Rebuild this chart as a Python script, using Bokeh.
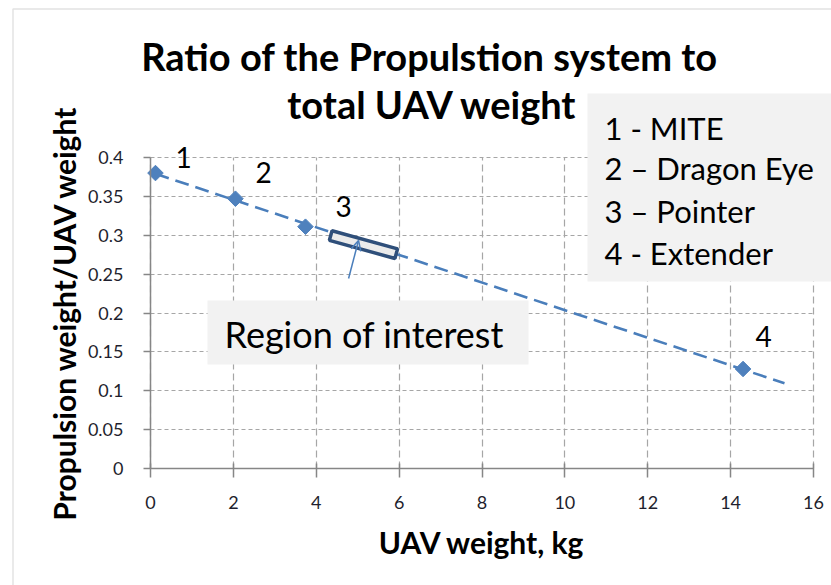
import numpy as np
from bokeh.plotting import figure
from bokeh.models import (FixedTicker, Label, BoxAnnotation, Arrow, OpenHead,
                          ColumnDataSource, LinearAxis, Grid)
from bokeh.embed import file_html
from bokeh.resources import INLINE

# ---- data ----
uav_weight = [0.12, 2.05, 3.74, 14.3]
prop_ratio = [0.38, 0.347, 0.311, 0.128]
point_ids = ["1", "2", "3", "4"]
legend_lines = ["1 - MITE", "2 \u2013 Dragon Eye", "3 \u2013 Pointer", "4 - Extender"]
x_ticks = [0, 2, 4, 6, 8, 10, 12, 14, 16]
y_ticks = [0, 0.05, 0.1, 0.15, 0.2, 0.25, 0.3, 0.35, 0.4]
y_tick_labels = ["0", "0.05", "0.1", "0.15", "0.2", "0.25", "0.3", "0.35", "0.4"]
title_lines = ["Ratio of the Propulstion system to", "total UAV weight"]

FONT = "Lato"
BLUE = "#4F81BD"
W, H = 831, 585
# plot area on the canvas (pixels): x 0..16 -> 150..813, y 0..0.4 -> 468..157
PX0, PX1, PY0, PY1 = 150.0, 813.0, 468.0, 157.0
XMIN, XMAX, YMIN, YMAX = 0.0, 16.0, 0.0, 0.4
sx_ = (PX1 - PX0) / (XMAX - XMIN)
sy_ = (PY0 - PY1) / (YMAX - YMIN)


def px2x(px):
    return XMIN + (px - PX0) / sx_


def px2y(py):
    return YMIN + (PY0 - py) / sy_


p = figure(width=W, height=H, x_range=(px2x(0), px2x(W)), y_range=(px2y(H), px2y(0)),
           output_backend="svg", toolbar_location=None, title=None,
           x_axis_location=None, y_axis_location=None,
           min_border=0, min_border_left=0, min_border_right=0,
           min_border_top=0, min_border_bottom=0)
p.outline_line_color = None
p.background_fill_color = "white"
p.border_fill_color = "white"
p.xgrid.visible = False
p.ygrid.visible = False

# outer chart border
p.add_layout(BoxAnnotation(left=px2x(12.5), right=px2x(900), top=px2y(8.5),
                           bottom=px2y(700), fill_alpha=0, line_color="#a0a0a0",
                           line_width=1.5, level="underlay"))

# axes (drawn at the data origin)
xaxis = LinearAxis(fixed_location=0, bounds=(XMIN, XMAX),
                   ticker=FixedTicker(ticks=x_ticks))
yaxis = LinearAxis(fixed_location=0, bounds=(YMIN, YMAX),
                   ticker=FixedTicker(ticks=y_ticks))
yaxis.major_label_overrides = {t: l for t, l in zip(y_ticks, y_tick_labels)}
xaxis.major_label_overrides = {t: str(t) for t in x_ticks}
for ax in (xaxis, yaxis):
    ax.axis_line_color = "#868686"
    ax.axis_line_width = 1.5
    ax.major_tick_line_color = "#868686"
    ax.major_tick_line_width = 1.5
    ax.minor_tick_line_color = None
    ax.major_label_text_font = FONT
    ax.major_label_text_font_size = "18px"
    ax.major_label_text_color = "#1f1f2e"
    ax.axis_label_text_font = FONT
    ax.axis_label_text_font_style = "bold"
    ax.axis_label_text_font_size = "30px"
    ax.axis_label_text_color = "black"
xaxis.major_tick_out = 9
xaxis.major_tick_in = 5
xaxis.major_label_standoff = 18
xaxis.axis_label = "UAV weight, kg"
xaxis.axis_label_standoff = 12
yaxis.major_tick_out = 7
yaxis.major_tick_in = 0
yaxis.major_label_standoff = 20
yaxis.axis_label = "Propulsion weight/UAV weight"
yaxis.axis_label_standoff = 3
p.add_layout(xaxis, "below")
p.add_layout(yaxis, "left")

# grid lines limited to the plot area
has_cross = "cross_bounds" in Grid.properties()
if has_cross:
    gx = Grid(dimension=0, ticker=FixedTicker(ticks=x_ticks), bounds=(XMIN, XMAX),
              cross_bounds=(YMIN, YMAX))
    gy = Grid(dimension=1, ticker=FixedTicker(ticks=y_ticks), bounds=(YMIN, YMAX),
              cross_bounds=(XMIN, XMAX))
    gx.grid_line_dash = "7 4"
    gy.grid_line_dash = "4 3"
    for g in (gx, gy):
        g.grid_line_color = "#a6a6a6"
        g.grid_line_width = 1.2
        p.add_layout(g)
else:
    p.segment(x0=x_ticks, x1=x_ticks, y0=[YMIN] * len(x_ticks), y1=[YMAX] * len(x_ticks),
              line_color="#a6a6a6", line_width=1.2, line_dash="7 4", level="underlay")
    p.segment(x0=[XMIN] * len(y_ticks), x1=[XMAX] * len(y_ticks), y0=y_ticks, y1=y_ticks,
              line_color="#a6a6a6", line_width=1.2, line_dash="4 3", level="underlay")

# trendline (linear fit of the data, forward forecast 1 unit)
coef = np.polyfit(uav_weight, prop_ratio, 1)
tx = np.array([min(uav_weight), max(uav_weight) + 1.0])
p.line(tx, np.polyval(coef, tx), line_color="#4A7EBB", line_width=2.6,
       line_dash="14 7")

# points (diamond = square rotated 45 degrees)
src = ColumnDataSource(dict(x=uav_weight, y=prop_ratio))
p.scatter("x", "y", source=src, marker="square", size=11, angle=np.pi / 4,
          fill_color=BLUE, line_color=BLUE)


def page_label(px, py, text, size, align="left", style="normal"):
    p.add_layout(Label(x=px2x(px), y=px2y(py), text=text,
                       text_font=FONT, text_font_size=size, text_font_style=style,
                       text_align=align, text_baseline="middle",
                       text_color="black"))


# point number labels
for t, (lx, ly) in zip(point_ids, [(183, 157), (263, 172), (343, 206), (763, 336)]):
    page_label(lx, ly, t, "28px", align="center")

# region of interest marker
p.rect(x=[5.14], y=[0.288], width=68, height=10, width_units="screen",
       height_units="screen", angle=-0.27, fill_color="#ebebeb",
       line_color="#2F4F7A", line_width=3.5)
p.add_layout(Arrow(end=OpenHead(size=10, line_color="#4A7EBB", line_width=1.5),
                   x_start=4.78, y_start=0.2444, x_end=5.02, y_end=0.2933,
                   line_color="#4A7EBB", line_width=1.5))

# region of interest text box
p.add_layout(BoxAnnotation(left=px2x(207), right=px2x(528), top=px2y(300),
                           bottom=px2y(364), fill_color="#f2f2f2", fill_alpha=1,
                           line_color=None))
page_label(224, 333, "Region of interest", "36px")

# legend box
p.add_layout(BoxAnnotation(left=px2x(587), right=px2x(840), top=px2y(93),
                           bottom=px2y(281), fill_color="#f2f2f2", fill_alpha=1,
                           line_color=None))
for t, ly in zip(legend_lines, [127, 167, 210, 252]):
    page_label(604, ly, t, "31px")

# title
for t, lx, ly in zip(title_lines, [429, 432], [55, 103]):
    page_label(lx, ly, t, "38px", align="center", style="bold")

open("out.html", "w").write(file_html(p, INLINE))
